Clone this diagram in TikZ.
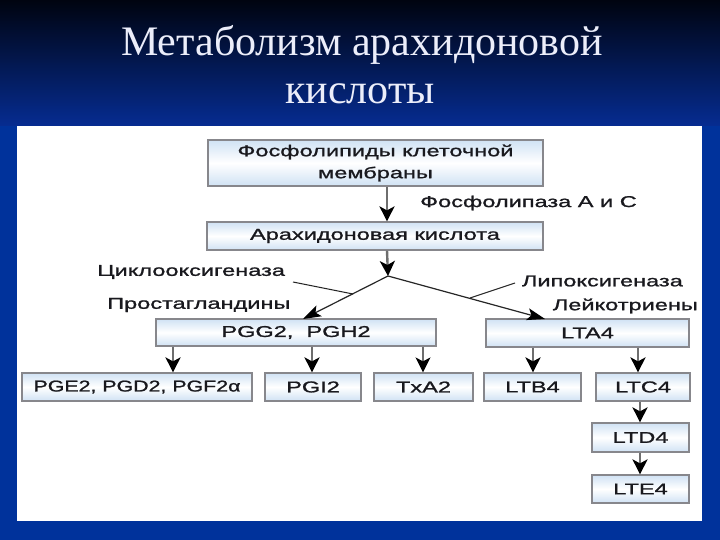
\documentclass[tikz,border=0pt]{standalone}
\usepackage{fontspec}
\setmainfont{Liberation Serif}
\newfontfamily\bxf[FakeStretch=1.5,FakeBold=1.2]{Liberation Sans}
\newfontfamily\bxn[FakeStretch=1.36,FakeBold=1.2]{Liberation Sans}
\usetikzlibrary{arrows.meta}
\definecolor{bgtop}{RGB}{0,4,16}
\definecolor{bgmid}{RGB}{6,44,145}
\definecolor{bgbot}{RGB}{0,50,155}
\definecolor{boxedge}{RGB}{135,135,140}
\definecolor{boxblue}{RGB}{208,226,244}
\definecolor{txt}{RGB}{25,25,30}
\definecolor{shaft}{RGB}{110,110,110}
\definecolor{ttl}{RGB}{236,238,250}
\begin{document}
\begin{tikzpicture}[x=1pt,y=-1pt,
  bx/.style={draw=boxedge, line width=1.2pt, top color=boxblue, bottom color=boxblue, middle color=white,
    font=\bxf\fontsize{15.7}{22}\selectfont, text=txt, inner sep=0pt, align=center},
  lbl/.style={font=\bxf\fontsize{15.7}{18}\selectfont, text=txt, inner sep=0pt},
  arr/.style={draw=shaft, line width=2.4pt, -{Stealth[length=15pt,width=15pt,inset=4pt,color=black]}},
  darr/.style={draw=black!85, line width=1.2pt, -{Stealth[length=18pt,width=12pt,inset=4pt,color=black]}},
  ptr/.style={draw=black!85, line width=1pt},
  ttlf/.style={font=\fontsize{42}{46}\selectfont, text=ttl, inner sep=0pt}]
\useasboundingbox (0,0) rectangle (720,540);
% background
\fill[bgbot] (0,0) rectangle (720,540);
\shade[top color=bgtop, bottom color=bgmid] (0,0) rectangle (720,126);
\fill[white] (17,126) rectangle (702,521);
% title
\node[ttlf] (t1) at (362,45) {Метаболизм арахидоновой};
\node[ttlf] (t2) at (360,94) {кислоты};
% boxes
\node[bx, minimum width=335pt, minimum height=46pt] (b1) at (375.5,163) {Фосфолипиды клеточной\\мембраны};
\node[bx, minimum width=336pt, minimum height=28pt] (b2) at (375,236) {Арахидоновая кислота};
\node[bx, minimum width=280pt, minimum height=27pt] (pgg) at (296,332.5) {PGG2,\ \ PGH2};
\node[bx, minimum width=203pt, minimum height=28pt] (lta) at (587.5,333) {LTA4};
\node[bx, minimum width=230pt, minimum height=28pt, font=\bxn\fontsize{15.7}{18}\selectfont] (pge) at (137,387) {PGE2, PGD2, PGF2α};
\node[bx, minimum width=96pt, minimum height=28pt] (pgi) at (313,387) {PGI2};
\node[bx, minimum width=99pt, minimum height=28pt] (txa) at (423.5,387) {TxA2};
\node[bx, minimum width=97pt, minimum height=28pt] (ltb) at (532.5,387) {LTB4};
\node[bx, minimum width=94pt, minimum height=28pt] (ltc) at (643,387) {LTC4};
\node[bx, minimum width=97pt, minimum height=29pt] (ltd) at (640.5,437.5) {LTD4};
\node[bx, minimum width=97pt, minimum height=28pt] (lte) at (640.5,489) {LTE4};
% labels
\node[lbl, anchor=west] (l1) at (420,203) {Фосфолипаза А и С};
\node[lbl, anchor=west] (l2) at (97,272) {Циклооксигеназа};
\node[lbl, anchor=west] (l3) at (107,305) {Простагландины};
\node[lbl, anchor=east] (l4) at (683,281) {Липоксигеназа};
\node[lbl, anchor=east] (l5) at (698,306) {Лейкотриены};
% coordinates
\coordinate (xa) at (387,0);
\coordinate (j) at (388,276);
\coordinate (pl) at (303,319);
\coordinate (pr) at (545,319);
\coordinate (c1) at (293,282);
\coordinate (c2) at (353,294);
\coordinate (d1) at (515,283);
\coordinate (d2) at (470,298);
\coordinate (x1) at (173,0);
\coordinate (x2) at (312,0);
\coordinate (x3) at (423,0);
\coordinate (x4) at (533,0);
\coordinate (x5) at (638,0);
\coordinate (x6) at (640,0);
% connectors
\draw[arr] (b1.south -| xa) -- (b2.north -| xa);
\draw[arr] (b2.south -| xa) -- (j);
\draw[darr] (j) -- (pl);
\draw[darr] (j) -- (pr);
\draw[ptr] (c1) -- (c2);
\draw[ptr] (d1) -- (d2);
\draw[arr] (pgg.south -| x1) -- (pge.north -| x1);
\draw[arr] (pgg.south -| x2) -- (pgi.north -| x2);
\draw[arr, line width=1.3pt] (pgg.south -| x3) -- (txa.north -| x3);
\draw[arr] (lta.south -| x4) -- (ltb.north -| x4);
\draw[arr] (lta.south -| x5) -- (ltc.north -| x5);
\draw[arr] (ltc.south -| x6) -- (ltd.north -| x6);
\draw[arr] (ltd.south -| x6) -- (lte.north -| x6);
\end{tikzpicture}
\end{document}
